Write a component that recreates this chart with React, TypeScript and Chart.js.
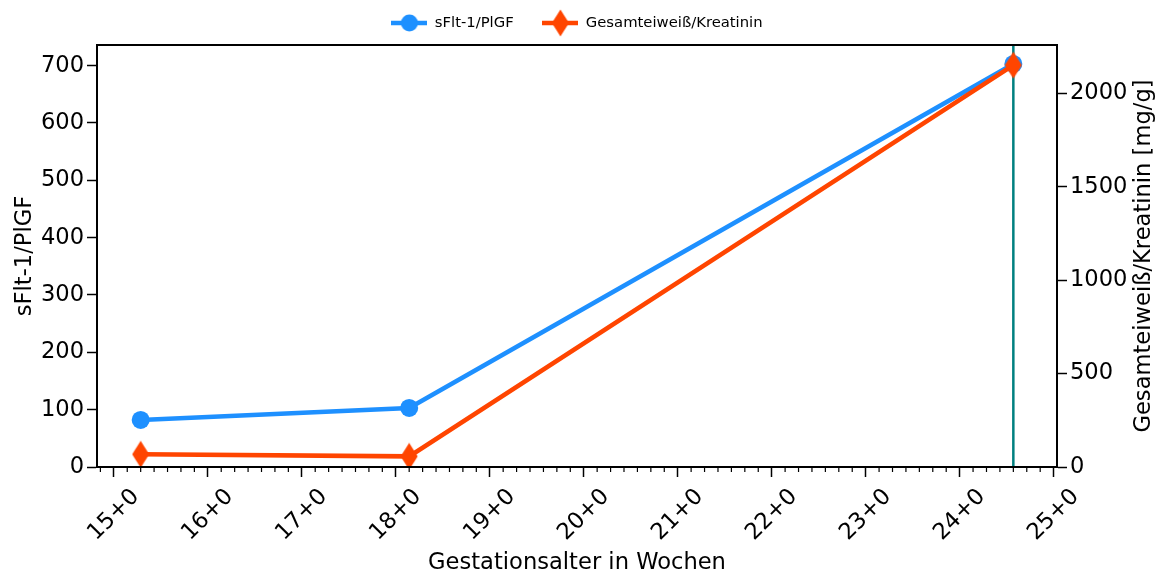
import React, { useEffect, useRef } from 'react';
import { Chart, registerables } from 'chart.js';

Chart.register(...registerables);

// ---------- data ----------
const SERIES_NAMES = ['sFlt-1/PlGF', 'Gesamteiweiß/Kreatinin'];
const GESTATIONAL_AGE = ['15+2', '18+1', '24+4'];
const SFLT_PLGF = [82, 103, 703];
const PROTEIN_CREATININE = [68, 57, 2150];
const MARKER_DATE = '24+4';

const X_TICK_LABELS = ['15+0', '16+0', '17+0', '18+0', '19+0', '20+0', '21+0', '22+0', '23+0', '24+0', '25+0'];
const Y_LEFT_TICKS = [0, 100, 200, 300, 400, 500, 600, 700];
const Y_RIGHT_TICKS = [0, 500, 1000, 1500, 2000];

const X_LABEL = 'Gestationsalter in Wochen';
const Y_LEFT_LABEL = 'sFlt-1/PlGF';
const Y_RIGHT_LABEL = 'Gesamteiweiß/Kreatinin [mg/g]';

const X_RANGE = [14.821, 25.036];
const Y_LEFT_RANGE = [0, 736];
const Y_RIGHT_RANGE = [0, 2258];

// ---------- style ----------
const FONT = "'DejaVu Sans', sans-serif";
const BLUE = '#1E90FF';
const ORANGE = '#FF4500';
const TEAL = '#008080';
const TICK_FONT = 22.6;
const LEGEND_FONT = 14.8;
const LINE_W = 4.6;

const toWeeks = (ga: string) => {
  const [w, d] = ga.split('+').map(Number);
  return w + d / 7;
};

function makeCanvas(w: number, h: number) {
  const c = document.createElement('canvas');
  c.width = w;
  c.height = h;
  return c;
}

function drawDiamond(ctx: CanvasRenderingContext2D, cx: number, cy: number, hw: number, hh: number) {
  ctx.beginPath();
  ctx.moveTo(cx, cy - hh);
  ctx.lineTo(cx + hw, cy);
  ctx.lineTo(cx, cy + hh);
  ctx.lineTo(cx - hw, cy);
  ctx.closePath();
  ctx.fill();
}

function diamondMarker() {
  const c = makeCanvas(18, 28);
  const ctx = c.getContext('2d')!;
  ctx.fillStyle = ORANGE;
  drawDiamond(ctx, 9, 14, 8.5, 13.5);
  return c;
}

function legendCircle() {
  const c = makeCanvas(36, 20);
  const ctx = c.getContext('2d')!;
  ctx.strokeStyle = BLUE;
  ctx.lineWidth = LINE_W;
  ctx.beginPath();
  ctx.moveTo(0, 10);
  ctx.lineTo(36, 10);
  ctx.stroke();
  ctx.fillStyle = BLUE;
  ctx.beginPath();
  ctx.arc(18, 10, 8.5, 0, Math.PI * 2);
  ctx.fill();
  return c;
}

function legendDiamond() {
  const c = makeCanvas(36, 28);
  const ctx = c.getContext('2d')!;
  ctx.strokeStyle = ORANGE;
  ctx.lineWidth = LINE_W;
  ctx.beginPath();
  ctx.moveTo(0, 14);
  ctx.lineTo(36, 14);
  ctx.stroke();
  ctx.fillStyle = ORANGE;
  drawDiamond(ctx, 18, 14, 8.5, 13.5);
  return c;
}

const decorations = {
  id: 'decorations',
  beforeDatasetsDraw(chart: any) {
    const { ctx, chartArea } = chart;
    const x = chart.scales.x.getPixelForValue(toWeeks(MARKER_DATE));
    ctx.save();
    ctx.strokeStyle = TEAL;
    ctx.lineWidth = 2.5;
    ctx.beginPath();
    ctx.moveTo(x, chartArea.top);
    ctx.lineTo(x, chartArea.bottom);
    ctx.stroke();
    ctx.restore();
  },
  afterDatasetsDraw(chart: any) {
    const { ctx, chartArea } = chart;
    ctx.save();
    ctx.strokeStyle = '#000';
    ctx.lineWidth = 2;
    ctx.strokeRect(chartArea.left, chartArea.top, chartArea.right - chartArea.left, chartArea.bottom - chartArea.top);
    ctx.restore();
  },
  afterDraw(chart: any) {
    const { ctx, chartArea } = chart;
    const xs = chart.scales.x;
    ctx.save();
    // minor ticks (days)
    ctx.strokeStyle = '#000';
    ctx.lineWidth = 1.2;
    const start = Math.ceil(xs.min * 7);
    const end = Math.floor(xs.max * 7);
    for (let k = start; k <= end; k++) {
      if (k % 7 === 0) continue;
      const px = xs.getPixelForValue(k / 7);
      ctx.beginPath();
      ctx.moveTo(px, chartArea.bottom);
      ctx.lineTo(px, chartArea.bottom + 5);
      ctx.stroke();
    }
    // right axis title, reading bottom to top
    const yr = chart.scales.y1;
    ctx.fillStyle = '#000';
    ctx.font = `${TICK_FONT}px ${FONT}`;
    ctx.textAlign = 'center';
    ctx.textBaseline = 'middle';
    ctx.translate(yr.right - 18, (chartArea.top + chartArea.bottom) / 2);
    ctx.rotate(-Math.PI / 2);
    ctx.fillText(Y_RIGHT_LABEL, 0, 0);
    ctx.restore();
  },
};

export default function App() {
  const ref = useRef<HTMLCanvasElement | null>(null);

  useEffect(() => {
    if (!ref.current) return;
    const xVals = GESTATIONAL_AGE.map(toWeeks);
    const legendImages = [legendCircle(), legendDiamond()];
    const colors = [BLUE, ORANGE];
    const tickGrid = {
      drawOnChartArea: false,
      drawTicks: true,
      tickLength: 10,
      tickColor: '#000',
      tickWidth: 1.5,
    };
    const border = { display: true, color: '#000', width: 2 };

    const chart = new Chart(ref.current, {
      type: 'line',
      data: {
        datasets: [
          {
            label: SERIES_NAMES[0],
            data: xVals.map((x, i) => ({ x, y: SFLT_PLGF[i] })),
            yAxisID: 'y',
            borderColor: BLUE,
            backgroundColor: BLUE,
            borderWidth: LINE_W,
            pointRadius: 9,
            pointBorderWidth: 0,
            pointBackgroundColor: BLUE,
            pointStyle: 'circle',
            tension: 0,
            fill: false,
            order: 2,
          },
          {
            label: SERIES_NAMES[1],
            data: xVals.map((x, i) => ({ x, y: PROTEIN_CREATININE[i] })),
            yAxisID: 'y1',
            borderColor: ORANGE,
            backgroundColor: ORANGE,
            borderWidth: LINE_W,
            pointRadius: 12,
            pointBorderWidth: 0,
            pointStyle: diamondMarker(),
            tension: 0,
            fill: false,
            order: 1,
          },
        ],
      },
      options: {
        responsive: false,
        animation: false,
        events: [],
        layout: { padding: { top: -13.1, left: 0, right: 0, bottom: 0 }, autoPadding: false },
        color: '#000',
        plugins: {
          tooltip: { enabled: false },
          legend: {
            display: true,
            position: 'top',
            align: 'center',
            fullSize: false,
            labels: {
              usePointStyle: true,
              pointStyleWidth: 36,
              padding: 28.7,
              color: '#000',
              font: { family: FONT, size: LEGEND_FONT },
              generateLabels: () =>
                SERIES_NAMES.map((text, i) => ({
                  text,
                  pointStyle: legendImages[i],
                  fillStyle: colors[i],
                  strokeStyle: colors[i],
                  lineWidth: 0,
                  hidden: false,
                  datasetIndex: i,
                  fontColor: '#000',
                })),
            },
          },
          subtitle: {
            display: true,
            text: '',
            weight: 0,
            position: 'top',
            padding: 0,
            font: { size: 4.6, lineHeight: 1 },
          },
        },
        scales: {
          x: {
            type: 'linear',
            position: 'bottom',
            bounds: 'data',
            min: X_RANGE[0],
            max: X_RANGE[1],
            afterBuildTicks: (scale: any) => {
              scale.ticks = X_TICK_LABELS.map((l) => ({ value: toWeeks(l) }));
            },
            afterFit: (scale: any) => {
              scale.height = 107;
              scale.paddingLeft = 0;
              scale.paddingRight = 0;
            },
            ticks: {
              autoSkip: false,
              minRotation: 45,
              maxRotation: 45,
              padding: 6.5,
              labelOffset: 22,
              color: '#000',
              font: { family: FONT, size: TICK_FONT },
              callback: (_v: any, i: number) => X_TICK_LABELS[i],
            },
            grid: tickGrid,
            border,
            title: {
              display: true,
              text: X_LABEL,
              color: '#000',
              font: { family: FONT, size: TICK_FONT },
              padding: { top: 0, bottom: -3 },
            },
          },
          y: {
            type: 'linear',
            position: 'left',
            bounds: 'data',
            min: Y_LEFT_RANGE[0],
            max: Y_LEFT_RANGE[1],
            afterBuildTicks: (scale: any) => {
              scale.ticks = Y_LEFT_TICKS.map((v) => ({ value: v }));
            },
            afterFit: (scale: any) => {
              scale.width = 97;
            },
            ticks: {
              padding: 3,
              color: '#000',
              font: { family: FONT, size: TICK_FONT },
              callback: (v: any) => String(v),
            },
            grid: tickGrid,
            border,
            title: {
              display: true,
              text: Y_LEFT_LABEL,
              color: '#000',
              font: { family: FONT, size: TICK_FONT },
              padding: { top: 11.4, bottom: 0 },
            },
          },
          y1: {
            type: 'linear',
            position: 'right',
            bounds: 'data',
            min: Y_RIGHT_RANGE[0],
            max: Y_RIGHT_RANGE[1],
            afterBuildTicks: (scale: any) => {
              scale.ticks = Y_RIGHT_TICKS.map((v) => ({ value: v }));
            },
            afterFit: (scale: any) => {
              scale.width = 105;
            },
            ticks: {
              padding: 3,
              color: '#000',
              font: { family: FONT, size: TICK_FONT },
              callback: (v: any) => String(v),
            },
            grid: tickGrid,
            border,
          },
        },
      },
      plugins: [decorations],
    } as any);

    return () => chart.destroy();
  }, []);

  return (
    <div style={{ position: 'fixed', left: 0, top: 0, width: 1162, height: 574, background: '#fff' }}>
      <canvas ref={ref} width={1162} height={574} style={{ display: 'block' }} />
    </div>
  );
}
